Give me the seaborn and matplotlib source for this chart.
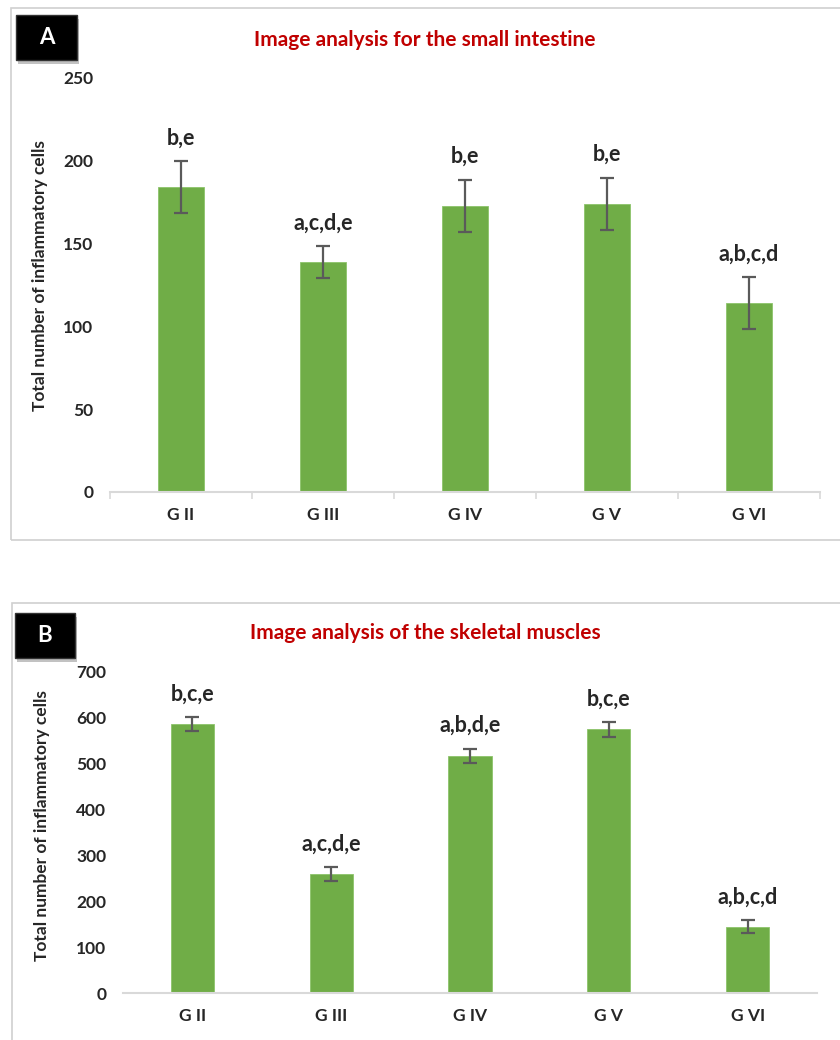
import numpy as np
import pandas as pd
import seaborn as sns
import matplotlib.pyplot as plt
from matplotlib.patches import Rectangle

# values
groups = ["G II", "G III", "G IV", "G V", "G VI"]

means_a = [184, 139, 173, 174, 114]
err_a = [15.7, 9.5, 15.7, 15.9, 15.6]
letters_a = ["b,e", "a,c,d,e", "b,e", "b,e", "a,b,c,d"]

means_b = [587, 260, 517, 575, 145]
err_b = [15, 15, 16, 16, 15]
letters_b = ["b,c,e", "a,c,d,e", "a,b,d,e", "b,c,e", "a,b,c,d"]

sns.set_theme(style="white")
plt.rcParams['font.family'] = ['Lato', 'DejaVu Sans']
plt.rcParams['font.weight'] = 'bold'

W, H = 840, 1040
fig = plt.figure(figsize=(W / 100, H / 100), dpi=100)


def px(x0, y0, x1, y1):
    # pixel box (top-left origin) -> figure fraction rect
    return [x0 / W, 1 - y1 / H, (x1 - x0) / W, (y1 - y0) / H]


def panel(rect, means, errs, letters, ymax, ystep, bar_w, title, tag,
          frame, tagbox, title_y, ylab_pos, minor_ticks):
    # outer frame
    fx = px(*frame)
    fig.add_artist(Rectangle((fx[0], fx[1]), fx[2], fx[3], transform=fig.transFigure,
                             fill=False, ec="#D0D0D0", lw=1.2))
    # black tag box with small shadow
    tb = px(*tagbox)
    fig.add_artist(Rectangle((tb[0] + 0.002, tb[1] - 0.004), tb[2], tb[3],
                             transform=fig.transFigure, fc="#9A9A9A", ec="none", alpha=0.6))
    fig.add_artist(Rectangle((tb[0], tb[1]), tb[2], tb[3], transform=fig.transFigure,
                             fc="black", ec="#333333", lw=1))
    fig.text(tb[0] + tb[2] / 2, tb[1] + tb[3] / 2, tag, color="white",
             fontsize=16, fontweight="bold", ha="center", va="center")
    fig.text(425 / W, 1 - title_y / H, title, color="#C00000", fontsize=15,
             fontweight="bold", ha="center", va="center")
    fig.text(ylab_pos[0] / W, 1 - ylab_pos[1] / H, "Total number of inflammatory cells",
             rotation=90, fontsize=12.5, fontweight="bold", ha="center", va="center")

    ax = fig.add_axes(px(*rect))
    df = pd.DataFrame({"group": groups, "value": means})
    sns.barplot(data=df, x="group", y="value", color="#70AD47", width=bar_w,
                errorbar=None, saturation=1, ax=ax, edgecolor="#8CC46A", linewidth=0.6)
    ax.errorbar(np.arange(len(groups)), means, yerr=errs, fmt="none",
                ecolor="#5A5A5A", elinewidth=1.6, capsize=5, capthick=1.6)
    for i, (m, e, lab) in enumerate(zip(means, errs, letters)):
        ax.annotate(lab, (i, m + e), xytext=(0, 16.5), textcoords="offset points",
                    ha="center", va="center", fontsize=15.5, fontweight="bold")

    ax.set_xlim(-0.5, len(groups) - 0.5)
    ax.set_ylim(0, ymax)
    ax.set_yticks(np.arange(0, ymax + 1, ystep))
    ax.set_xlabel("")
    ax.set_ylabel("")
    for s in ["top", "right", "left"]:
        ax.spines[s].set_visible(False)
    ax.spines["bottom"].set_color("#D9D9D9")
    ax.spines["bottom"].set_linewidth(1.5)
    ax.tick_params(axis="y", length=0, pad=12, labelsize=12.5)
    ax.tick_params(axis="x", which="major", length=0, pad=11, labelsize=12.5)
    if minor_ticks:
        ax.set_xticks(np.arange(-0.5, len(groups)), minor=True)
        ax.tick_params(axis="x", which="minor", length=5, width=1.2,
                       color="#D9D9D9", direction="out", bottom=True)
    for t in ax.get_xticklabels() + ax.get_yticklabels():
        t.set_fontweight("bold")
    ax.set_facecolor("none")
    return ax


panel((110, 78, 820, 492), means_a, err_a, letters_a, 250, 50, 0.32,
      "Image analysis for the small intestine", "A",
      (11, 8, 860, 540), (16, 15, 77, 60), 40, (40, 276), True)

panel((123, 672, 817, 993), means_b, err_b, letters_b, 700, 100, 0.31,
      "Image analysis of the skeletal muscles", "B",
      (12, 603, 860, 1060), (15, 613, 75, 658), 633, (42, 826), False)

fig.savefig("out.png", dpi=100)
